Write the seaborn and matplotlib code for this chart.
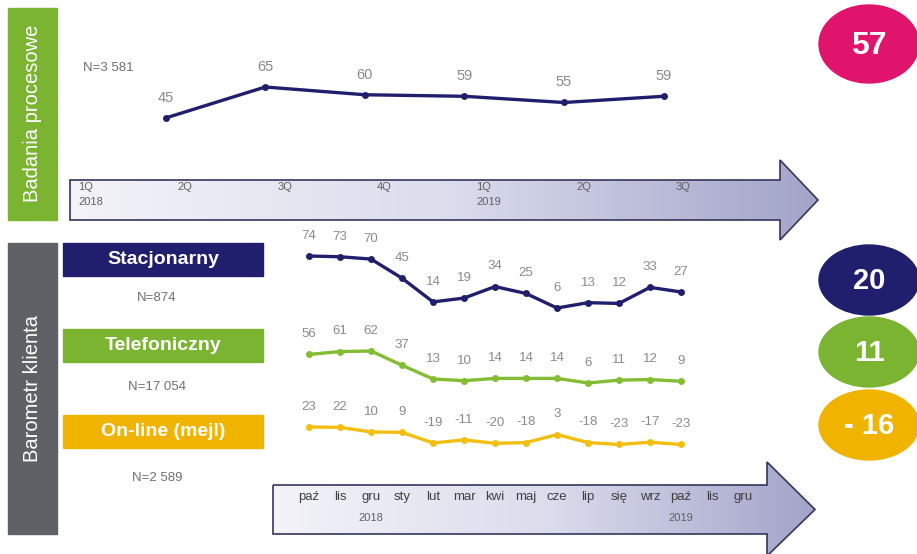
import numpy as np
import matplotlib
matplotlib.use("Agg")
import matplotlib.pyplot as plt
import seaborn as sns
from matplotlib.patches import Polygon, Rectangle, Ellipse
from matplotlib.colors import LinearSegmentedColormap
from matplotlib.transforms import blended_transform_factory

# ---- dane ----
quarter_labels = ['1Q', '2Q', '3Q', '4Q', '1Q', '2Q', '3Q']
quarter_years = ['2018', '', '', '', '2019', '', '']
process_idx = [1, 2, 3, 4, 5, 6]
process_values = [45, 65, 60, 59, 55, 59]
process_n = 'N=3 581'
process_score = '57'

month_labels = ['paź', 'lis', 'gru', 'sty', 'lut', 'mar', 'kwi', 'maj',
                'cze', 'lip', 'się', 'wrz', 'paź', 'lis', 'gru']
month_years = ['', '', '2018', '', '', '', '', '', '', '', '', '', '2019', '', '']
stacjonarny = [74, 73, 70, 45, 14, 19, 34, 25, 6, 13, 12, 33, 27]
telefoniczny = [56, 61, 62, 37, 13, 10, 14, 14, 14, 6, 11, 12, 9]
online = [23, 22, 10, 9, -19, -11, -20, -18, 3, -18, -23, -17, -23]

channel_names = ['Stacjonarny', 'Telefoniczny', 'On-line (mejl)']
channel_n = ['N=874', 'N=17 054', 'N=2 589']
channel_scores = ['20', '11', '- 16']

NAVY = '#1f1f6e'
GREEN = '#7bb431'
YELLOW = '#f0b400'
PINK = '#e0146c'
GREYBOX = '#606166'
LABEL = '#8a8a8a'

sns.set_theme(style="white")
plt.rcParams['font.family'] = ['Liberation Sans', 'DejaVu Sans']

W, H = 917, 554
fig = plt.figure(figsize=(W / 100, H / 100), dpi=100)
fig.patch.set_facecolor('white')

# tlo w pikselach (x w prawo, y w dol)
canvas = fig.add_axes([0, 0, 1, 1])
canvas.set_axis_off()


def overlay(x0_px, x_step, y_px, y_val, y_scale):
    """osie na cala figure, skala dobrana tak zeby dane trafily w piksele"""
    ax = fig.add_axes([0, 0, 1, 1])
    ax.set_axis_off()
    ax.patch.set_alpha(0)
    ax.set_xlim(-x0_px / x_step, (W - x0_px) / x_step)
    ax.set_ylim(y_val - (H - y_px) / y_scale, y_val + y_px / y_scale)
    return ax


def draw_arrow(x0, x1, y0, y1, head_x, tip_x, head_top, head_bot):
    cy = (y0 + y1) / 2
    pts = [(x0, y0), (head_x, y0), (head_x, head_top), (tip_x, cy),
           (head_x, head_bot), (head_x, y1), (x0, y1)]
    poly = Polygon(pts, closed=True, facecolor='none', edgecolor='#34365e', lw=1.2, zorder=3)
    canvas.add_patch(poly)
    cmap = LinearSegmentedColormap.from_list('arr', ['#f3f3f8', '#dcdded', '#a2a4c9'])
    grad = np.linspace(0, 1, 256).reshape(1, -1)
    im = canvas.imshow(grad, cmap=cmap, aspect='auto', extent=[x0, tip_x, head_bot, head_top], zorder=2)
    im.set_clip_path(poly)


def label_points(ax, xs, ys, color=LABEL, size=10):
    for x, y in zip(xs, ys):
        ax.annotate(str(y), (x, y), xytext=(0, 14.5), textcoords='offset points',
                    ha='center', va='center', color=color, fontsize=size)


# ---- gorna sekcja: badania procesowe ----
canvas.add_patch(Rectangle((8, 8), 49, 212, color=GREEN, zorder=1))
canvas.text(32.5, 113, 'Badania procesowe', rotation=90, color='white', fontsize=14.5,
            ha='center', va='center')
canvas.text(83, 68, process_n, color='#707070', fontsize=9.5, va='center')
draw_arrow(70, 780, 180, 220, 780, 818, 160, 240)

ax_top = overlay(66, 99.6, 118, 45, 1.55)
sns.lineplot(x=process_idx, y=process_values, ax=ax_top, color=NAVY, lw=2.4,
             marker='o', markersize=5, markeredgewidth=0)
label_points(ax_top, process_idx, process_values, size=10.5)
tr = blended_transform_factory(ax_top.transData, canvas.transData)
for i, (q, yr) in enumerate(zip(quarter_labels, quarter_years)):
    ax_top.text(i + 0.12, 187, q, transform=tr, fontsize=8, color='#606060', va='center', zorder=5)
    if yr:
        ax_top.text(i + 0.12, 202, yr, transform=tr, fontsize=8, color='#606060', va='center', zorder=5)

canvas.add_patch(Ellipse((869, 44), 100, 78, color=PINK, zorder=1))
canvas.text(869, 46, process_score, color='white', fontsize=23, fontweight='bold',
            ha='center', va='center')

# ---- dolna sekcja: barometr klienta ----
canvas.add_patch(Rectangle((8, 243), 49, 291, color=GREYBOX, zorder=1))
canvas.text(32.5, 388, 'Barometr klienta', rotation=90, color='white', fontsize=14.5,
            ha='center', va='center')

box_tops = [243, 329, 415]
n_y = [298, 387, 478]
score_y = [280, 352, 425]
colors = [NAVY, GREEN, YELLOW]
for name, n, sc, top, ny, sy, c in zip(channel_names, channel_n, channel_scores,
                                       box_tops, n_y, score_y, colors):
    canvas.add_patch(Rectangle((63, top), 200, 33, color=c, zorder=1))
    canvas.text(163, top + 17, name, color='white', fontsize=14, fontweight='bold',
                ha='center', va='center')
    canvas.text(157, ny, n, color='#707070', fontsize=9.5, ha='center', va='center')
    canvas.add_patch(Ellipse((869, sy), 100, 70, color=c, zorder=1))
    canvas.text(869, sy + 1, sc, color='white', fontsize=21, fontweight='bold',
                ha='center', va='center')

draw_arrow(273, 767, 485, 534, 767, 815, 462, 556)

months_idx = list(range(len(stacjonarny)))
series = [(stacjonarny, NAVY, 256, 74, 0.765),
          (telefoniczny, '#84bd34', 351, 62, 0.571),
          (online, '#f2be12', 427, 23, 0.38)]
axes_bottom = []
for vals, c, ypx, yval, sc in series:
    ax = overlay(309, 31.0, ypx, yval, sc)
    sns.lineplot(x=months_idx, y=vals, ax=ax, color=c, lw=2.4,
                 marker='o', markersize=5, markeredgewidth=0)
    label_points(ax, months_idx, vals, size=9.5)
    axes_bottom.append(ax)

ax_m = axes_bottom[0]
trm = blended_transform_factory(ax_m.transData, canvas.transData)
for i, (m, yr) in enumerate(zip(month_labels, month_years)):
    ax_m.text(i, 497, m, transform=trm, fontsize=9.5, color='#404040', ha='center', va='center', zorder=5)
    if yr:
        ax_m.text(i, 518, yr, transform=trm, fontsize=8, color='#606060', ha='center', va='center', zorder=5)

canvas.set_xlim(0, W)
canvas.set_ylim(H, 0)

fig.savefig('out.png', dpi=100, facecolor='white')
